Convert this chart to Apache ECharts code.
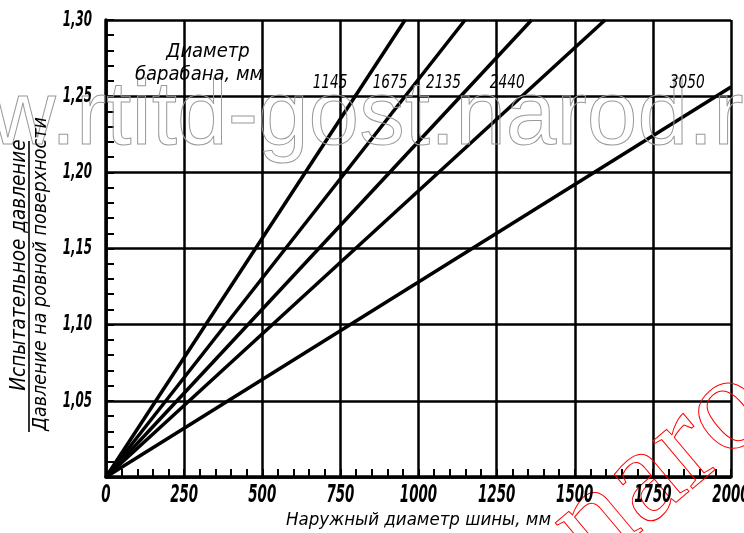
<!DOCTYPE html>
<html>
<head>
<meta charset="utf-8">
<script src="https://cdn.jsdelivr.net/npm/echarts@6/dist/echarts.min.js"></script>
<style>
html,body{margin:0;padding:0;background:#fff;}
#chart{width:744px;height:533px;}
</style>
</head>
<body>
<div id="chart"></div>
<script>
// ---- data ----
const drumDiameters = ['1145', '1675', '2135', '2440', '3050'];
const line1145 = [[0, 1.00], [957, 1.30]];
const line1675 = [[0, 1.00], [1149, 1.30]];
const line2135 = [[0, 1.00], [1362, 1.30]];
const line2440 = [[0, 1.00], [1597, 1.30]];
const line3050 = [[0, 1.00], [2000, 1.256]];
const xTicks = [0, 250, 500, 750, 1000, 1250, 1500, 1750, 2000];
const yTicks = [1.00, 1.05, 1.10, 1.15, 1.20, 1.25, 1.30];
const xTickLabels = ['0', '250', '500', '750', '1000', '1250', '1500', '1750', '2000'];
const yTickLabels = ['', '1,05', '1,10', '1,15', '1,20', '1,25', '1,30'];
const xAxisTitle = 'Наружный диаметр шины, мм';
const yTitleTop = 'Испытательное давление';
const yTitleBottom = 'Давление на ровной поверхности';
const legendTitle1 = 'Диаметр';
const legendTitle2 = 'барабана, мм';

// ---- layout ----
const labelAnchorX = [717, 909, 1080, 1284, 1860];
const labelAnchorY = 1.2585;

const FONT = "'DejaVu Sans Condensed', 'DejaVu Sans', sans-serif";
const chart = echarts.init(document.getElementById('chart'), null, {renderer: 'canvas'});
const lines = [line1145, line1675, line2135, line2440, line3050];

const option = {
  backgroundColor: '#fff',
  animation: false,
  grid: {left: 106, right: 13, top: 20, bottom: 56, containLabel: false, outerBoundsMode: 'none'},
  xAxis: {
    type: 'value', min: xTicks[0], max: xTicks[xTicks.length - 1], interval: 250,
    name: xAxisTitle, nameLocation: 'middle', nameGap: 34,
    nameTextStyle: {fontFamily: FONT, fontStyle: 'italic', fontSize: 18.5, color: '#000'},
    axisLine: {show: true, onZero: false, lineStyle: {color: '#000', width: 3.5}},
    axisTick: {show: true, inside: true, length: 8, lineStyle: {color: '#000', width: 2}},
    minorTick: {show: true, splitNumber: 5, length: 8, lineStyle: {color: '#000', width: 2}},
    splitLine: {show: true, lineStyle: {color: '#000', width: 2.5}},
    axisLabel: {show: false}
  },
  yAxis: {
    type: 'value', min: yTicks[0], max: yTicks[yTicks.length - 1], interval: 0.05,
    axisLine: {show: true, onZero: false, lineStyle: {color: '#000', width: 3.5}},
    axisTick: {show: true, inside: true, length: 8, lineStyle: {color: '#000', width: 2}},
    minorTick: {show: true, splitNumber: 5, length: 8, lineStyle: {color: '#000', width: 2}},
    splitLine: {show: true, lineStyle: {color: '#000', width: 2.5}},
    axisLabel: {show: false}
  },
  series: lines.map((d, i) => ({
    type: 'line', name: drumDiameters[i], data: d, symbol: 'none', clip: true,
    lineStyle: {color: '#000', width: 3.5}
  }))
};
chart.setOption(option);

function buildGraphics() {
  const g = [];
  // gray outline watermark
  g.push({type: 'text', x: -10, y: 119, z: 50, silent: true,
    style: {text: 'w.rtitd-gost.narod.ru', font: "91px 'Liberation Sans', Arial, sans-serif",
      fill: 'rgba(0,0,0,0)', stroke: '#9a9a9a', lineWidth: 1, textAlign: 'left', textVerticalAlign: 'middle'}});
  // red rotated watermark
  g.push({type: 'text', x: 570, y: 545, rotation: 40 * Math.PI / 180, z: 50, silent: true,
    style: {text: 'narod.ru', font: "135px 'Liberation Serif', 'Times New Roman', serif",
      fill: 'rgba(0,0,0,0)', stroke: '#ff0000', lineWidth: 1, textAlign: 'left', textVerticalAlign: 'middle'}});
  // tick labels, positioned by the axis scales
  xTicks.forEach((t, i) => {
    const p = chart.convertToPixel({gridIndex: 0}, [t, yTicks[0]]);
    g.push({type: 'text', x: p[0], y: p[1] + 19, scaleX: 0.62, z: 60,
      style: {text: xTickLabels[i], font: "italic bold 24px " + FONT, fill: '#000', textAlign: 'center', textVerticalAlign: 'middle'}});
  });
  yTicks.forEach((t, i) => {
    if (!yTickLabels[i]) return;
    const p = chart.convertToPixel({gridIndex: 0}, [xTicks[0], t]);
    g.push({type: 'text', x: p[0] - 14, y: p[1], scaleX: 0.6, z: 60,
      style: {text: yTickLabels[i], font: "italic bold 22px " + FONT, fill: '#000', textAlign: 'right', textVerticalAlign: 'middle'}});
  });
  // series labels
  drumDiameters.forEach((name, i) => {
    const p = chart.convertToPixel({gridIndex: 0}, [labelAnchorX[i], labelAnchorY]);
    g.push({type: 'text', x: p[0], y: p[1], scaleX: 0.76, z: 60,
      style: {text: name, font: "italic 20px " + FONT, fill: '#000', textAlign: 'center', textVerticalAlign: 'middle'}});
  });
  // legend title
  g.push({type: 'text', x: 208, y: 52, z: 60,
    style: {text: legendTitle1, font: "italic 20px " + FONT, fill: '#000', textAlign: 'center', textVerticalAlign: 'middle'}});
  g.push({type: 'text', x: 199, y: 75, z: 60,
    style: {text: legendTitle2, font: "italic 20px " + FONT, fill: '#000', textAlign: 'center', textVerticalAlign: 'middle'}});
  // y-axis fraction title
  g.push({type: 'text', x: 20, y: 265, rotation: Math.PI / 2, z: 60,
    style: {text: yTitleTop, font: "italic 20.5px " + FONT, fill: '#000', textAlign: 'center', textVerticalAlign: 'middle'}});
  g.push({type: 'line', z: 60, shape: {x1: 29, y1: 141, x2: 29, y2: 432}, style: {stroke: '#000', lineWidth: 1.6}});
  g.push({type: 'text', x: 41, y: 274, rotation: Math.PI / 2, z: 60,
    style: {text: yTitleBottom, font: "italic 19.5px " + FONT, fill: '#000', textAlign: 'center', textVerticalAlign: 'middle'}});
  return g;
}
chart.setOption({graphic: buildGraphics()});
</script>
</body>
</html>
